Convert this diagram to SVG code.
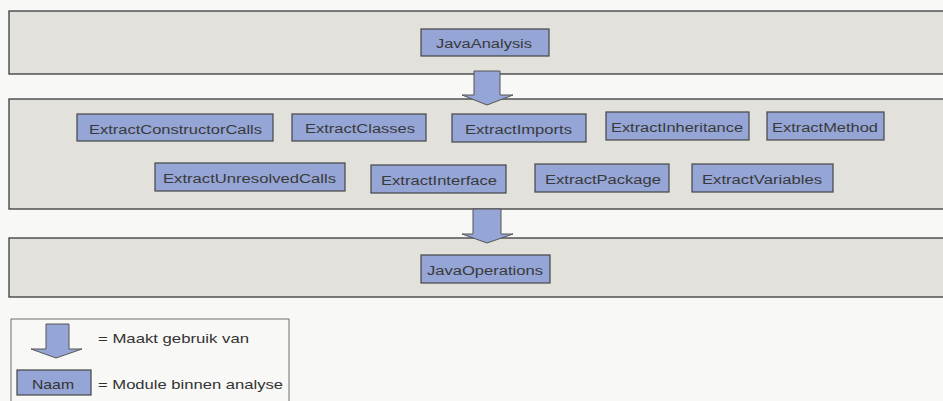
<svg xmlns="http://www.w3.org/2000/svg" width="943" height="401" viewBox="0 0 943 401">
<style>
.band{fill:#e2e1dc;stroke:#3a3a3a;stroke-width:1.3}
.box{fill:#94a5d6;stroke:#454545;stroke-width:1.2}
.arrow{fill:#94a5d6;stroke:#555;stroke-width:1}
.t{font-family:"Liberation Sans",Arial,sans-serif;font-size:12.5px;fill:#3a3a3a}
.lt{font-family:"Liberation Sans",Arial,sans-serif;font-size:13px;fill:#333}
</style>
<rect width="943" height="401" fill="#f8f8f6"/>
<g id="layers">
<rect id="layer-analysis" class="band" x="9" y="11" width="945" height="63"/>
<rect id="layer-extract" class="band" x="9" y="99" width="945" height="110"/>
<rect id="layer-operations" class="band" x="9" y="238" width="945" height="59"/>
</g>
<g id="JavaAnalysis"><rect class="box" x="421" y="29" width="128" height="27"/><text class="t" x="436" y="48" textLength="96" lengthAdjust="spacingAndGlyphs">JavaAnalysis</text></g>
<g id="ExtractConstructorCalls"><rect class="box" x="77" y="114" width="196" height="27"/><text class="t" x="89" y="134" textLength="173" lengthAdjust="spacingAndGlyphs">ExtractConstructorCalls</text></g>
<g id="ExtractClasses"><rect class="box" x="292" y="114" width="134" height="27"/><text class="t" x="305" y="133" textLength="110" lengthAdjust="spacingAndGlyphs">ExtractClasses</text></g>
<g id="ExtractImports"><rect class="box" x="452" y="114" width="134" height="28"/><text class="t" x="465" y="134" textLength="107" lengthAdjust="spacingAndGlyphs">ExtractImports</text></g>
<g id="ExtractInheritance"><rect class="box" x="606" y="112" width="143" height="28"/><text class="t" x="611" y="132" textLength="132" lengthAdjust="spacingAndGlyphs">ExtractInheritance</text></g>
<g id="ExtractMethod"><rect class="box" x="767" y="112" width="117" height="28"/><text class="t" x="772" y="132" textLength="106" lengthAdjust="spacingAndGlyphs">ExtractMethod</text></g>
<g id="ExtractUnresolvedCalls"><rect class="box" x="155" y="163" width="190" height="28"/><text class="t" x="163" y="183" textLength="173" lengthAdjust="spacingAndGlyphs">ExtractUnresolvedCalls</text></g>
<g id="ExtractInterface"><rect class="box" x="371" y="165" width="135" height="28"/><text class="t" x="381" y="185" textLength="116" lengthAdjust="spacingAndGlyphs">ExtractInterface</text></g>
<g id="ExtractPackage"><rect class="box" x="535" y="164" width="134" height="28"/><text class="t" x="545" y="184" textLength="116" lengthAdjust="spacingAndGlyphs">ExtractPackage</text></g>
<g id="ExtractVariables"><rect class="box" x="692" y="164" width="141" height="28"/><text class="t" x="702" y="184" textLength="120" lengthAdjust="spacingAndGlyphs">ExtractVariables</text></g>
<g id="JavaOperations"><rect class="box" x="421" y="255" width="129" height="28"/><text class="t" x="427" y="275" textLength="116" lengthAdjust="spacingAndGlyphs">JavaOperations</text></g>
<g id="connectors">
<polygon class="arrow" points="474,71 500,71 500,95 513,95 487,105 462,95 474,95"/>
<polygon class="arrow" points="473,209 501,209 501,234 513,234 487,243 462,234 473,234"/>
</g>
<g id="legend">
<rect x="11" y="319" width="278" height="95" fill="#f8f8f6" stroke="#707070" stroke-width="1"/>
<polygon class="arrow" points="46,324 69,324 69,349 82,349 56,358 31,349 46,349"/>
<text class="lt" x="98" y="343" textLength="151" lengthAdjust="spacingAndGlyphs">= Maakt gebruik van</text>
<rect class="box" x="17" y="370" width="74" height="25"/>
<text class="lt" x="32" y="389" textLength="42" lengthAdjust="spacingAndGlyphs">Naam</text>
<text class="lt" x="98" y="389" textLength="185" lengthAdjust="spacingAndGlyphs">= Module binnen analyse</text>
</g>
</svg>
